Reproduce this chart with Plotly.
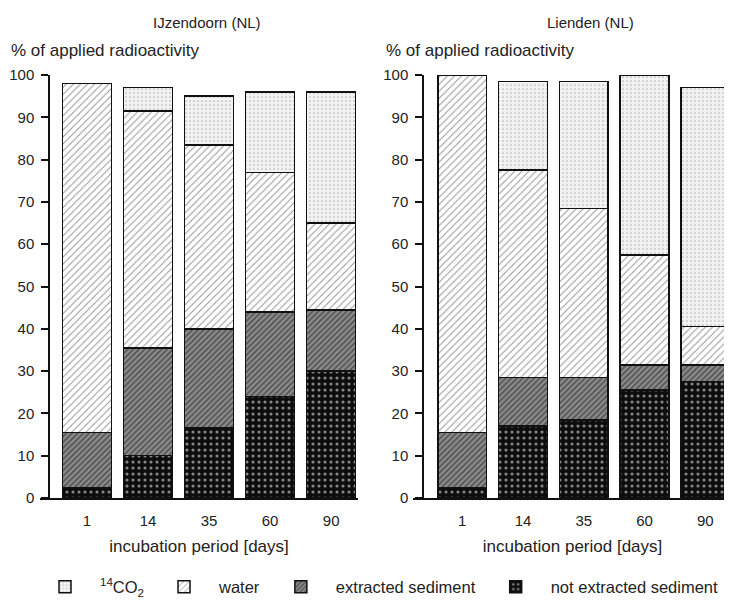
import plotly.graph_objects as go

days = ["1", "14", "35", "60", "90"]

# IJzendoorn (NL)
ij_not_extracted = [2.5, 10, 16.5, 24, 30]
ij_extracted = [13, 25.5, 23.5, 20, 14.5]
ij_water = [82.5, 56, 43.5, 33, 20.5]
ij_co2 = [0, 5.5, 11.5, 19, 31]

# Lienden (NL)
li_not_extracted = [2.5, 17, 18.5, 25.5, 27.5]
li_extracted = [13, 11.5, 10, 6, 4]
li_water = [84.5, 49, 40, 26, 9]
li_co2 = [0, 21, 30, 42.5, 56.5]

series_names = ["not extracted sediment", "extracted sediment", "water", "<sup>14</sup>CO<sub>2</sub>"]
patterns = [
    dict(shape=".", bgcolor="#0d0d0d", fgcolor="#ffffff", size=6, solidity=0.22),
    dict(shape="/", bgcolor="#8c8c8c", fgcolor="#151515", size=4, solidity=0.4),
    dict(shape="/", bgcolor="#ffffff", fgcolor="#2a2a2a", size=5, solidity=0.2),
    dict(shape=".", bgcolor="#f2f2f2", fgcolor="#7a7a7a", size=4, solidity=0.15),
]

fig = go.Figure()
panels = [
    ("x", "y", [ij_not_extracted, ij_extracted, ij_water, ij_co2], True),
    ("x2", "y2", [li_not_extracted, li_extracted, li_water, li_co2], False),
]
for xa, ya, data, show in panels:
    for name, vals, pat in zip(series_names, data, patterns):
        fig.add_trace(go.Bar(
            x=days, y=vals, name=name, xaxis=xa, yaxis=ya,
            legendgroup=name, showlegend=show,
            marker=dict(color=pat["bgcolor"], pattern=pat,
                        line=dict(color="#111111", width=1.5)),
        ))

# page body has an 8px margin: figure is 724x592, reference px minus 8
W, H = 724, 592
OFF = 8


def px(v):
    return (v - OFF) / W


def py(v):
    return 1 - (v - OFF) / H


font = dict(family="Liberation Sans, Arial, sans-serif", size=15, color="#222222")

common_x = dict(type="category", showline=True, linecolor="#111111", linewidth=1.5,
                ticks="", showgrid=False, zeroline=False, tickfont=dict(size=15),
                ticklabelstandoff=8, fixedrange=True, automargin=False,
                title=dict(text="incubation period [days]", font=dict(size=17), standoff=12))
common_y = dict(range=[0, 100], dtick=10, showline=True, linecolor="#111111", linewidth=1.5,
                ticks="outside", ticklen=7, tickcolor="#111111", tickwidth=1.5,
                ticklabelstandoff=4,
                showgrid=False, zeroline=False, tickfont=dict(size=15),
                domain=[py(498), py(75)],
                anchor="free", fixedrange=True, automargin=False)

fig.update_layout(
    width=W, height=H, margin=dict(l=0, r=0, t=0, b=0, autoexpand=False),
    paper_bgcolor="white", plot_bgcolor="white", font=font,
    barmode="stack", bargap=0.2,
    xaxis=dict(common_x, domain=[px(40), px(358)], range=[-0.77, 4.44], anchor="y"),
    yaxis=dict(common_y, position=px(49)),
    xaxis2=dict(common_x, domain=[px(413), 1.0], range=[-0.81, 4.44], anchor="y2"),
    yaxis2=dict(common_y, position=px(423)),
    legend=dict(orientation="h", x=px(30), xanchor="left", y=py(587), yanchor="middle",
                traceorder="reversed", font=dict(size=16.5), itemwidth=60),
    annotations=[
        dict(text="IJzendoorn (NL)", x=px(207), y=py(22), xref="paper", yref="paper",
             xanchor="center", yanchor="middle", showarrow=False, font=dict(size=15)),
        dict(text="Lienden (NL)", x=px(590), y=py(22), xref="paper", yref="paper",
             xanchor="center", yanchor="middle", showarrow=False, font=dict(size=15)),
        dict(text="% of applied radioactivity", x=px(9), y=py(51), xref="paper", yref="paper",
             xanchor="left", yanchor="middle", showarrow=False, font=dict(size=17)),
        dict(text="% of applied radioactivity", x=px(384), y=py(51), xref="paper", yref="paper",
             xanchor="left", yanchor="middle", showarrow=False, font=dict(size=17)),
    ],
)

fig.write_html("out.html")
